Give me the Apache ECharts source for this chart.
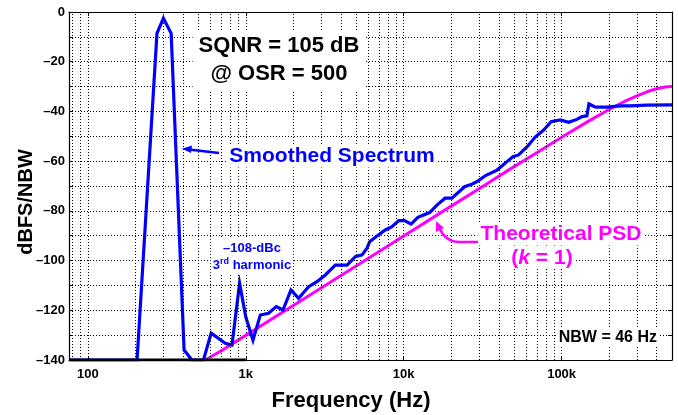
<!DOCTYPE html>
<html>
<head>
<meta charset="utf-8">
<script src="https://cdn.jsdelivr.net/npm/echarts@6/dist/echarts.min.js"></script>
<style>
  html, body { margin: 0; padding: 0; background: #fff; }
  #main { width: 678px; height: 415px; }
</style>
</head>
<body>
<div id="main"></div>
<script>
// values
const spectrumFreq = [76, 205, 274, 301, 337, 407, 456, 540, 604, 741, 818, 914, 1000, 1111, 1236, 1394, 1561, 1720, 1934, 2161,
  2500, 2825, 3190, 3690, 4380, 4940, 5450, 5860, 6090, 6780, 7650, 8430, 9300, 10100, 11140, 12300, 14600, 16300, 18300, 20200,
  24300, 27000, 29200, 33000, 39000, 45100, 49200, 53400, 60500, 68300, 77000, 85800, 98200, 110800, 125000, 134800, 144500,
  149000, 164000, 194000, 236000, 271000, 347000, 500000];
const spectrumDb = [-140, -140, -8.6, -2.5, -8.6, -136, -140, -140, -129.2, -133.3, -134, -109.1, -122.6, -132, -121.9, -121.2, -118.5, -119.9, -111.8, -115.2,
  -110.5, -108.5, -105.8, -101.8, -101.8, -98.4, -97.7, -95, -92.4, -90.1, -87.7, -86.4, -83.9, -83.9, -85.3, -82.6, -80.7, -77.6, -74.9, -74.9,
  -70.3, -69.3, -68.2, -65.8, -63.6, -60.2, -58.2, -57.5, -54.2, -50.2, -47.5, -44.1, -43.4, -44.4, -43.2, -42.1, -41.8,
  -37.0, -38.3, -38.3, -37.8, -37.8, -37.5, -37.4];

const psdFreq = [553, 700, 1000, 2000, 5000, 10000, 20000, 30000, 50000, 70000, 100000, 150000, 200000, 250000, 300000, 350000, 400000, 450000, 500000];
const psdDb = [-140, -136.3, -130.1, -118.1, -102.2, -90.1, -78.1, -71.1, -62.2, -56.5, -50.4, -43.7, -39.2, -36.0, -33.7, -32.0, -30.9, -30.2, -30.0];

// black floor segment along the bottom
const floorFreq = [76, 1000];
const floorDb = [-140, -140];

const xTickValues = [100, 1000, 10000, 100000];
const xTickLabels = ['100', '1k', '10k', '100k'];
const yLabelStep = 20;
const xMin = 76, xMax = 500000;
const yMin = -140, yMax = 0;

const FONT = '"Liberation Sans", Arial, Helvetica, sans-serif';

// dotted grid lines at 1..9 x each decade
let gridFreqs = [];
[10, 100, 1000, 10000, 100000].forEach(d => {
  for (let m = 1; m <= 9; m++) {
    const f = m * d;
    if (f > xMin && f < xMax) gridFreqs.push(f);
  }
});

function zip(a, b) {
  return a.map((v, i) => [v, b[i]]);
}

const dotted = { color: '#000', width: 1, type: [1, 2] };

const option = {
  animation: false,
  backgroundColor: '#fff',
  grid: { left: 69, right: 6, top: 12, bottom: 55 },
  xAxis: [{
    type: 'log', logBase: 10, min: xMin, max: xMax,
    axisLine: { show: true, onZero: false, lineStyle: { color: '#000', width: 1.2 } },
    axisTick: { show: true, inside: true, length: 4, lineStyle: { color: '#000' } },
    axisLabel: {
      color: '#000', fontFamily: FONT, fontWeight: 'bold', fontSize: 13, margin: 8,
      formatter: v => {
        const i = xTickValues.findIndex(t => Math.abs(t - v) / t < 1e-6);
        return i >= 0 ? xTickLabels[i] : '';
      }
    },
    splitLine: { show: false }
  }, {
    type: 'log', logBase: 10, min: xMin, max: xMax, position: 'top',
    axisLine: { show: true, onZero: false, lineStyle: { color: '#000', width: 1.2 } },
    axisTick: { show: true, inside: true, length: 4, lineStyle: { color: '#000' } },
    axisLabel: { show: false },
    splitLine: { show: false }
  }],
  yAxis: [{
    type: 'value', min: yMin, max: yMax, interval: 10,
    axisLine: { show: true, onZero: false, lineStyle: { color: '#000', width: 1.2 } },
    axisTick: { show: true, inside: true, length: 4, lineStyle: { color: '#000' } },
    axisLabel: {
      color: '#000', fontFamily: FONT, fontWeight: 'bold', fontSize: 13, margin: 4,
      formatter: v => (Math.round(v) % yLabelStep === 0 ? String(v).replace('-', '\u2013') : '')
    },
    splitLine: { show: true, lineStyle: dotted }
  }, {
    type: 'value', min: yMin, max: yMax, interval: 10, position: 'right',
    axisLine: { show: true, onZero: false, lineStyle: { color: '#000', width: 1.2 } },
    axisTick: { show: true, inside: true, length: 4, lineStyle: { color: '#000' } },
    axisLabel: { show: false },
    splitLine: { show: false }
  }],
  series: [{
    name: 'grid',
    type: 'line',
    data: [[1000, -140]],
    showSymbol: false,
    lineStyle: { opacity: 0 },
    silent: true,
    z: 1,
    markLine: {
      silent: true, symbol: 'none', animation: false,
      label: { show: false },
      lineStyle: dotted,
      data: gridFreqs.map(f => ({ xAxis: f }))
    }
  }, {
    name: 'Theoretical PSD',
    type: 'line',
    data: zip(psdFreq, psdDb),
    showSymbol: false,
    lineStyle: { color: '#ff00ff', width: 3 },
    z: 3
  }, {
    name: 'Smoothed Spectrum',
    type: 'line',
    data: zip(spectrumFreq, spectrumDb),
    showSymbol: false,
    lineStyle: { color: '#0000ff', width: 3.2, join: 'miter' },
    z: 4
  }, {
    name: 'floor',
    type: 'line',
    data: zip(floorFreq, floorDb),
    showSymbol: false,
    lineStyle: { color: '#000', width: 3 },
    z: 5
  }],
  graphic: [
    {
      type: 'text', z: 10,
      style: {
        text: 'SQNR = 105 dB\n@ OSR = 500', x: 279, y: 60, align: 'center', verticalAlign: 'middle',
        fill: '#000', font: 'bold 22px ' + FONT, lineHeight: 28,
        backgroundColor: '#fff', padding: [2, 6]
      }
    },
    {
      type: 'text', z: 10,
      style: {
        text: 'Smoothed Spectrum', x: 332, y: 156, align: 'center', verticalAlign: 'middle',
        fill: '#0000ff', font: 'bold 21px ' + FONT,
        backgroundColor: '#fff', padding: [1, 3]
      }
    },
    {
      type: 'line', z: 10,
      shape: { x1: 219, y1: 153, x2: 189, y2: 149.5 },
      style: { stroke: '#0000ff', lineWidth: 2.5 }
    },
    {
      type: 'polygon', z: 10,
      shape: { points: [[182, 148.7], [192, 145.5], [191, 153]] },
      style: { fill: '#0000ff' }
    },
    {
      type: 'text', z: 10,
      style: {
        text: '{a|\u2013108-dBc}\n{a|3}{s|rd}{a| harmonic}', x: 252, y: 257, align: 'center', verticalAlign: 'middle',
        fill: '#0000ff',
        rich: {
          a: { font: 'bold 13px ' + FONT, fill: '#0000ff', lineHeight: 17 },
          s: { font: 'bold 9px ' + FONT, fill: '#0000ff', lineHeight: 17, verticalAlign: 'top', padding: [0, 0, 6, 0] }
        },
        backgroundColor: '#fff', padding: [1, 2]
      }
    },
    {
      type: 'text', z: 10,
      style: {
        text: 'Theoretical PSD', x: 561, y: 234, align: 'center', verticalAlign: 'middle',
        fill: '#ff00ff', font: 'bold 21px ' + FONT,
        backgroundColor: '#fff', padding: [1, 3]
      }
    },
    {
      type: 'text', z: 10,
      style: {
        text: '{a|(}{i|k}{a| = 1)}', x: 542, y: 258, align: 'center', verticalAlign: 'middle',
        rich: {
          a: { font: 'bold 21px ' + FONT, fill: '#ff00ff' },
          i: { font: 'italic bold 21px ' + FONT, fill: '#ff00ff' }
        },
        backgroundColor: '#fff', padding: [0, 3]
      }
    },
    {
      type: 'polyline', z: 10,
      shape: { points: [[478, 242], [458, 242]] },
      style: { stroke: '#ff00ff', lineWidth: 2.5, fill: null }
    },
    {
      type: 'bezierCurve', z: 10,
      shape: { x1: 458, y1: 242, cpx1: 445, cpy1: 241, x2: 440, y2: 229 },
      style: { stroke: '#ff00ff', lineWidth: 2.5, fill: null }
    },
    {
      type: 'polygon', z: 10,
      shape: { points: [[436, 221], [436, 232], [444, 228]] },
      style: { fill: '#ff00ff' }
    },
    {
      type: 'text', z: 10,
      style: {
        text: 'NBW = 46 Hz', x: 659, y: 338, align: 'right', verticalAlign: 'middle',
        fill: '#000', font: 'bold 16px ' + FONT,
        backgroundColor: '#fff', padding: [1, 2]
      }
    },
    {
      type: 'text', z: 10,
      style: {
        text: 'Frequency (Hz)', x: 351, y: 401, align: 'center', verticalAlign: 'middle',
        fill: '#000', font: 'bold 22px ' + FONT
      }
    },
    {
      type: 'text', z: 10,
      rotation: Math.PI / 2,
      x: 26, y: 202,
      style: {
        text: 'dBFS/NBW', x: 0, y: 0, align: 'center', verticalAlign: 'middle',
        fill: '#000', font: 'bold 20px ' + FONT
      }
    }
  ]
};

let chart = echarts.init(document.querySelector('#main'));
chart.setOption(option);
</script>
</body>
</html>
